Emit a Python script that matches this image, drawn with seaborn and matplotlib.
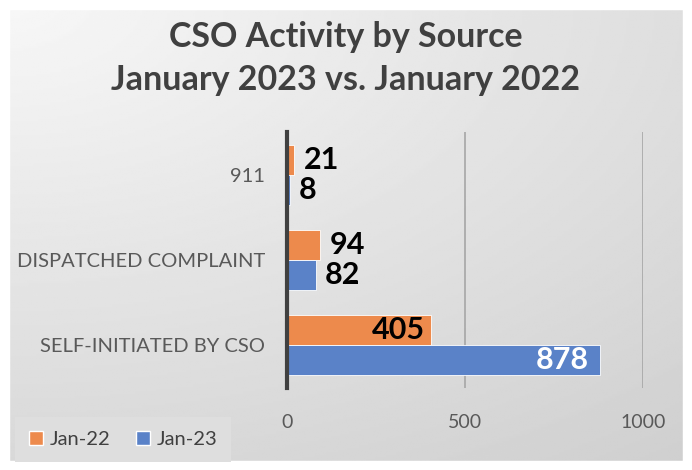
import numpy as np
import pandas as pd
import seaborn as sns
import matplotlib
matplotlib.use('Agg')
import matplotlib.pyplot as plt

categories = ['911', 'DISPATCHED COMPLAINT', 'SELF-INITIATED BY CSO']
jan22 = [21, 94, 405]
jan23 = [8, 82, 878]
series = ['Jan-22', 'Jan-23']
colors = ['#ed8a4c', '#5a82c8']

df = pd.DataFrame({
    'source': categories * 2,
    'count': jan22 + jan23,
    'period': [series[0]] * 3 + [series[1]] * 3,
})

sns.set_style('white')
plt.rcParams['font.family'] = ['Lato', 'DejaVu Sans']

fig = plt.figure(figsize=(6.92, 4.70), dpi=100)

# gradient background
bg = fig.add_axes([0, 0, 1, 1], zorder=-10)
yy, xx = np.mgrid[0:1:200j, 0:1:300j]
grad = 0.97 - 0.16 * np.sqrt((xx * 0.8) ** 2 + (yy * 1.0) ** 2) / 1.28
bg.imshow(grad, cmap='gray', vmin=0, vmax=1, extent=[0, 1, 0, 1], aspect='auto')
bg.set_xlim(0, 1)
bg.set_ylim(0, 1)
bg.axis('off')
bg.add_patch(plt.Rectangle((0, 0), 1, 1, fill=False, lw=14, ec='white'))

ax = fig.add_axes([287 / 692, 1 - 388 / 470, (643 - 287) / 692 / 1.0, (388 - 132) / 470])
ax.patch.set_alpha(0)
sns.barplot(data=df, y='source', x='count', hue='period', orient='h',
            palette=colors, width=0.7, ax=ax, saturation=1,
            edgecolor='white', linewidth=0.6)
ax.set_xlim(0, 1000)
ax.set_xticks([0, 500, 1000])
ax.tick_params(axis='x', length=0, pad=19, labelsize=14, labelcolor='#595959')
ax.tick_params(axis='y', length=0, pad=16, labelsize=14.5, labelcolor='#595959')
ax.xaxis.grid(True, color='#a6a6a6', lw=1.2)
ax.set_axisbelow(True)
for s in ['top', 'right', 'bottom']:
    ax.spines[s].set_visible(False)
ax.spines['left'].set_color('#404040')
ax.spines['left'].set_linewidth(3)
ax.spines['left'].set_zorder(5)
ax.set_xlabel('')
ax.set_ylabel('')

for cont in ax.containers:
    for bar, val in zip(cont, cont.datavalues):
        y = bar.get_y() + bar.get_height() / 2
        w = bar.get_width()
        if val > 800:
            ax.text(w - 30, y, f'{val:.0f}', ha='right', va='center',
                    fontsize=22, fontweight='bold', color='white')
        elif val > 300:
            ax.text(w - 18, y, f'{val:.0f}', ha='right', va='center',
                    fontsize=22, fontweight='bold', color='black')
        else:
            ax.text(w + 25, y, f'{val:.0f}', ha='left', va='center',
                    fontsize=22, fontweight='bold', color='black')

ax.get_legend().remove()
handles = [plt.Rectangle((0, 0), 1, 1, fc=c, ec='white') for c in colors]
leg = fig.legend(handles, series, loc='lower left', bbox_to_anchor=(15 / 692, 8 / 470),
                 ncol=2, frameon=True, fontsize=14.5, handlelength=0.7, handleheight=0.7,
                 handletextpad=0.3, columnspacing=1.3, borderpad=0.7, borderaxespad=0)
leg.get_frame().set_facecolor('#dedede')
leg.get_frame().set_edgecolor('none')
leg.get_frame().set_alpha(1)
leg.get_frame().set_boxstyle('square', pad=0)
for t in leg.get_texts():
    t.set_color('#404040')

fig.text(0.5, 1 - 37 / 470, 'CSO Activity by Source', ha='center', va='center',
         fontsize=24.5, fontweight='bold', color='#404040')
fig.text(0.5, 1 - 80 / 470, 'January 2023 vs. January 2022', ha='center', va='center',
         fontsize=24.5, fontweight='bold', color='#404040')

fig.savefig('out.png', dpi=100)
